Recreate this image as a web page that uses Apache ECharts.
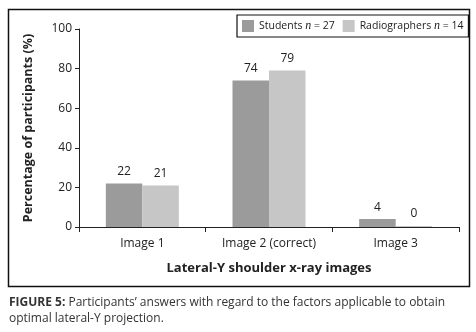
<!DOCTYPE html>
<html><head><meta charset="utf-8">
<script src="https://cdn.jsdelivr.net/npm/echarts@6/dist/echarts.min.js"></script>
<style>html,body{margin:0;padding:0;background:#fff}#c{width:476px;height:332px}</style>
</head><body><div id="c"></div>
<script>
var categories = ['Image 1', 'Image 2 (correct)', 'Image 3'];
var students = [22, 74, 4];
var radiographers = [21, 79, 0];
var yTicks = [0, 20, 40, 60, 80, 100];
var FONT = '"Open Sans", "Liberation Sans", sans-serif';

var chart = echarts.init(document.getElementById('c'), null, {renderer: 'canvas'});
chart.setOption({
  animation: false,
  textStyle: {fontFamily: FONT},
  graphic: [
    {type: 'rect', shape: {x: 8.5, y: 9.5, width: 461, height: 277}, style: {fill: 'none', stroke: '#111', lineWidth: 1.5}, z: 0},
    {type: 'text', left: 9, top: 295, style: {
      rich: {b: {fontWeight: 'bold', fontSize: 12, fontFamily: FONT, fill: '#333'}, t: {fontSize: 12, fontFamily: FONT, fill: '#333'}},
      text: '{b|FIGURE 5:}{t| Participants\u2019 answers with regard to the factors applicable to obtain}\n{t|optimal lateral-Y projection.}',
      lineHeight: 16
    }}
  ],
  legend: {
    left: 237, top: 15,
    padding: [5, 5, 5, 5],
    borderColor: '#111', borderWidth: 1.2,
    itemWidth: 12, itemHeight: 12, itemGap: 8,
    icon: 'rect',
    textStyle: {
      fontFamily: FONT, fontSize: 10.5, color: '#222',
      rich: {a: {fontFamily: FONT, fontSize: 10.5, color: '#222'}, i: {fontFamily: 'Liberation Serif', fontStyle: 'italic', fontSize: 12, color: '#222'}}
    },
    formatter: function (name) {
      var n = name === 'Students' ? 27 : 14;
      return '{a|' + name + ' }{i|n}{a| = ' + n + '}';
    },
    data: ['Students', 'Radiographers']
  },
  grid: {left: 79, right: 17, top: 29, bottom: 105, containLabel: false},
  xAxis: {
    type: 'category', data: categories,
    name: 'Lateral-Y shoulder x-ray images', nameLocation: 'middle', nameGap: 35,
    nameTextStyle: {fontFamily: FONT, fontWeight: 'bold', fontSize: 13, color: '#222'},
    axisLine: {lineStyle: {color: '#222', width: 1}},
    axisTick: {show: true, alignWithLabel: false, length: 5, lineStyle: {color: '#222'}},
    axisLabel: {fontFamily: FONT, fontSize: 12, color: '#222', margin: 11}
  },
  yAxis: {
    type: 'value', min: 0, max: 100, interval: 20,
    name: 'Percentage of participants (%)', nameLocation: 'middle', nameGap: 44, nameRotate: 90,
    nameTextStyle: {fontFamily: FONT, fontWeight: 'bold', fontSize: 12.5, color: '#222'},
    axisLine: {show: true, lineStyle: {color: '#222', width: 1}},
    axisTick: {show: true, length: 4, lineStyle: {color: '#222'}},
    splitLine: {show: false},
    axisLabel: {fontFamily: FONT, fontSize: 12, color: '#222', margin: 7,
      formatter: function (v) { return yTicks.indexOf(v) >= 0 ? String(v) : ''; }}
  },
  series: [
    {name: 'Students', type: 'bar', data: students, barWidth: 36.5, barGap: '0%',
      itemStyle: {color: '#9b9b9b'},
      label: {show: true, position: 'top', distance: 6, fontFamily: FONT, fontSize: 12, color: '#222'}},
    {name: 'Radiographers', type: 'bar', data: radiographers, barWidth: 36.5, barMinHeight: 1,
      itemStyle: {color: '#c6c6c6'},
      label: {show: true, position: 'top', distance: 6, fontFamily: FONT, fontSize: 12, color: '#222'}}
  ]
});
</script></body></html>
